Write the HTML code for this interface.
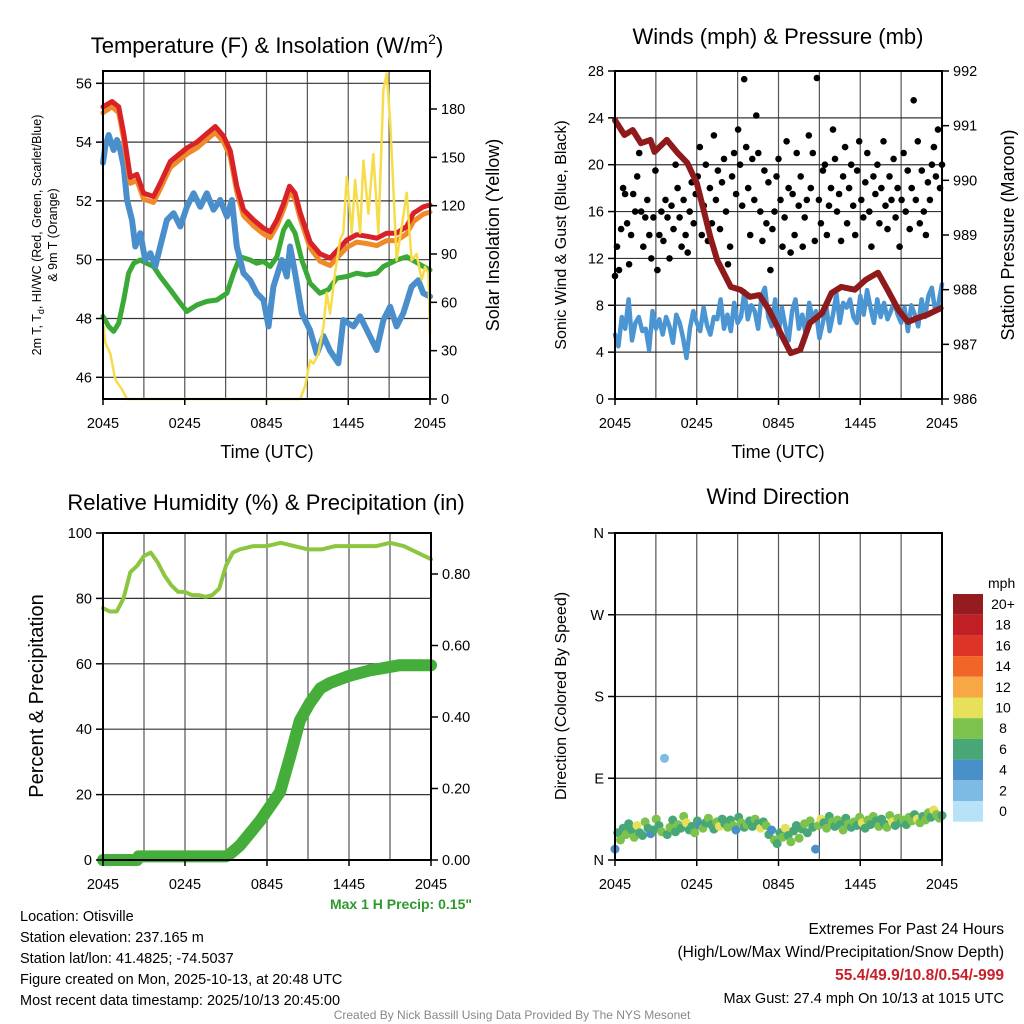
<!DOCTYPE html>
<html><head><meta charset="utf-8">
<style>
html,body{margin:0;padding:0;background:#fff;}
svg{display:block;font-family:"Liberation Sans",Arial,sans-serif;}
</style></head>
<body>
<svg id="c" width="1024" height="1024" viewBox="0 0 1024 1024" xmlns="http://www.w3.org/2000/svg"></svg>
<script>
// ---------- DATA ----------
const xTickLabels = ["2045","0245","0845","1445","2045"];
// Panel 1
const tempT = [0,0.66,1.15,1.52,2.0,2.49,2.98,3.71,4.2,4.94,6.16,6.89,7.5,8.24,8.85,9.34,9.82,10.31,11.05,11.78,12.27,12.76,13.25,13.69,14.1,14.47,15.2,15.93,16.67,17.16,17.89,18.62,19.35,20.09,20.82,21.55,22.29,22.78,23.51,24];
const tempRed = [55.2,55.38,55.2,54.3,52.8,52.9,52.26,52.15,52.6,53.34,53.8,54.0,54.24,54.53,54.2,53.7,52.5,51.7,51.35,51.07,50.95,51.35,51.9,52.5,52.26,51.6,50.6,50.2,50.05,50.3,50.67,50.85,50.8,50.73,50.9,50.9,51.13,51.58,51.8,51.86];
const tempOrange = [55.0,55.2,55.0,54.1,52.6,52.7,52.06,51.95,52.4,53.14,53.6,53.8,54.04,54.33,54.0,53.5,52.3,51.5,51.15,50.87,50.75,51.15,51.7,52.3,52.06,51.4,50.4,49.95,49.8,50.05,50.42,50.6,50.55,50.48,50.65,50.65,50.88,51.3,51.55,51.62];
const dewT = [0,0.17,0.42,0.78,1.03,1.27,1.52,1.76,2.13,2.37,2.74,3.1,3.47,3.84,4.2,4.69,5.18,5.67,6.16,6.65,7.14,7.62,8.11,8.6,9.09,9.46,9.82,10.31,10.8,11.29,11.78,12.15,12.51,13.12,13.49,13.73,14.1,14.59,15.2,15.69,16.18,16.67,17.28,17.64,18.38,18.87,19.48,20.09,20.58,21.07,21.55,22.04,22.65,23.14,23.51,24];
const dewBlue = [53.3,53.85,54.24,53.73,54.07,53.73,53.17,52.03,51.35,50.45,50.9,49.99,50.22,49.77,50.45,51.35,51.58,51.13,51.8,52.26,51.8,52.26,51.7,52.03,51.47,52.03,50.45,49.54,49.3,48.86,48.63,47.73,49.08,49.99,49.43,50.45,49.54,48.18,47.6,46.8,47.4,46.9,46.48,47.95,47.73,48.07,47.5,46.93,47.95,48.4,47.73,48.18,49.08,49.3,48.86,48.75];
const hiT = [0,0.42,0.78,1.15,1.52,1.88,2.25,2.74,3.1,3.71,4.2,4.94,5.67,6.16,6.89,7.62,8.36,9.09,9.58,10.07,10.8,11.29,11.78,12.27,12.76,13.25,13.61,14.1,14.59,15.2,15.93,16.54,17.16,17.89,18.62,19.35,20.09,20.58,21.07,21.55,22.29,22.9,23.51,24];
const hiGreen = [48.07,47.73,47.56,47.84,48.63,49.54,49.88,49.99,49.9,49.77,49.43,48.98,48.52,48.24,48.46,48.58,48.63,48.86,49.54,50.1,49.99,49.88,49.94,49.77,50.1,51.0,51.3,50.9,49.99,49.2,48.86,48.98,49.37,49.43,49.54,49.48,49.54,49.77,49.88,49.99,50.1,49.94,49.77,49.65];
const solarT = [0.05,0.17,0.54,0.9,1.39,1.76,14.47,14.83,15.2,15.45,15.81,16.18,16.42,16.67,17.03,17.4,17.64,17.89,18.26,18.5,18.87,19.11,19.48,19.84,20.21,20.58,20.82,21.07,21.31,21.55,21.92,22.29,22.65,23.02,23.39,23.63,23.88,24];
const solarV = [45,35,28,12,6,0,0,8,24,22,28,45,66,53,78,99,103,138,103,136,103,148,115,152,103,192,202,173,132,86,107,128,86,90,74,82,78,41];
// Panel 2
const sonicWind = [5.5,4.5,7,6,8.5,5,6.5,7,5.8,6,4.2,7.5,6,6.8,5.5,7,6.2,4.8,7.2,6.5,5.2,3.5,6,7.5,6.5,5.8,7.8,6.3,5.5,7,6.8,8.5,6,7.2,5.8,8.2,6.5,7,9.2,6.8,8,7.5,6,8.8,9.5,7,6.2,8.5,5.5,7.8,6.2,5,7.5,8.5,6,7.2,5.5,8.2,6.8,7.5,5.2,6.5,8,5.8,7.2,9,6.5,8.2,7.8,8.5,7,6.5,8.8,7.2,9.3,7.8,6.5,8.5,7,8.2,6.8,7.5,8.3,7.2,6.5,7.8,5.8,8,7.2,6.2,8.5,7,8.8,9.5,7.5,8.2,9.8];
const gusts = [10.5,13,11,14.5,18,17.5,15,11.5,14,17.5,16,19,21,16,13,15.5,17,14,12,15.5,19.5,11,14,16,13.5,17,15.5,12,16.5,14.5,20,18,15.5,13,17,14,12.5,16,18.5,15,17.5,19,21.5,14,16.5,20,13.5,18,15,22.5,17,19.5,14.5,18.5,20.5,16,11.5,13,19,21,17.5,23,20,16.5,27.3,21.5,18,14,20.5,17,24.2,21,16,13.5,19.5,15,18.5,11,14.5,16,19,20.5,17,13,15.5,22,18,12.5,17.5,14,21,16.5,19,13,15.5,17,22.5,18,21,13.5,27.4,17,15,19.5,20,14,16.5,18,23,20.5,16,17.5,13.5,19,21.5,15,18,20,16.5,14,19.5,22,17,15.5,18.5,21,16,13,19,17.5,20,15,18,22,16.5,14.5,19,17,20.5,15.5,18,13,17,21,16,19.5,14.5,18,25.5,17,22,15,19.5,16,14,18.5,17,20,21.5,19,23,18,20];
const presT = [0,0.7,1.3,1.9,2.6,2.9,3.8,4.6,5.3,6.0,6.5,7.0,7.5,8.5,9.2,9.9,10.6,11.3,12.3,12.9,13.6,14.3,15.2,15.9,16.6,17.6,18.4,19.3,20.0,20.8,21.5,22.2,22.9,23.9];
const presV = [991.1,990.83,990.92,990.68,990.74,990.52,990.74,990.5,990.32,989.95,989.46,988.96,988.54,988.05,988.0,987.87,987.9,987.63,987.13,986.84,986.9,987.39,987.57,987.94,988.05,988.0,988.18,988.31,988.0,987.63,987.41,987.48,987.54,987.66];
// Panel 3
const rhT = [0,0.5,1,1.5,2,2.5,3,3.5,4,4.5,5,5.5,6,6.5,7,7.5,8,8.5,9,9.5,10,11,12,13,14,15,16,17,18,19,20,21,22,23,24];
const rhV = [77,76,76,80,88,90,93,94,91,87,84,82,82,81,81,80.5,81,83,90,94,95,96,96,97,96,95,95,96,96,96,96,97,96,94,92];
const prT = [0,2.5,2.6,9,9.3,10,11.5,12.95,13.7,14.4,15.15,15.9,16.6,18,19.5,21.7,24];
const prV = [0,0,0.01,0.01,0.017,0.04,0.11,0.19,0.29,0.39,0.44,0.48,0.495,0.515,0.53,0.545,0.545];
// Panel 4
const windDir = [12,30,22,35,28,40,33,25,38,30,27,42,35,29,33,45,38,31,112,28,36,44,31,39,35,48,41,33,37,30,43,38,35,41,46,39,34,42,37,45,40,36,44,38,33,47,41,36,39,43,37,45,40,35,42,38,28,33,22,18,30,25,35,27,20,32,38,24,34,40,30,43,36,12,38,45,41,35,48,42,37,44,39,33,46,40,36,42,38,47,41,35,44,39,48,43,37,45,40,36,49,42,38,46,41,44,39,47,43,50,45,41,48,44,52,47,55,50,46,49];
const windSpd = [4.5,7,8,6,9,7,6.5,8.5,10.5,7,6,8,7.5,5,7,9,6.5,8,2.5,7,8.5,6,7.5,9,6.5,8,10,7,6.5,8.5,7,4.5,8,6,9.5,7.5,6.5,8,10.5,7,6,8.5,7.5,9,5,7,8,6.5,9,7.5,6,8.5,7,10,6.5,8,7,5.5,8.5,7,6,9,10.5,6.5,8,7.5,6,8.5,7,9,6.5,8,7.5,4.5,9,10.5,7,8,6.5,9,7.5,8,6,8.5,7,9.5,6.5,8,7.5,9,10.5,7,8,6.5,9,7.5,8.5,7,6,9,8,10,7.5,8.5,6.5,9,7,8,9.5,7.5,10.5,8,7,9,8.5,7.5,10,8,9,7.5];
const spdLabels = ["20+","18","16","14","12","10","8","6","4","2","0"];
const spdColors = ["#941b1e","#c11f26","#de3427","#f26528","#f7a845","#e6e05a","#7cc24c","#48a776","#4a90c8","#7dbbe4","#b7e2f7"];

// ---------- HELPERS ----------
const svg = document.getElementById('c');
const NS = "http://www.w3.org/2000/svg";
function mk(tag, attrs, parent, text){
  const e = document.createElementNS(NS, tag);
  for (const k in attrs) e.setAttribute(k, attrs[k]);
  if (text !== undefined) e.textContent = text;
  (parent || svg).appendChild(e);
  return e;
}
function lin(d0,d1,r0,r1){ return v => r0 + (v-d0)*(r1-r0)/(d1-d0); }
function pathFrom(ts, vs, sx, sy){
  return ts.map((t,i)=>(i?'L':'M')+sx(t).toFixed(1)+','+sy(vs[i]).toFixed(1)).join('');
}
function uniT(n){ const a=[]; for(let i=0;i<n;i++) a.push(i*24/(n-1)); return a; }

function frame(x0,y0,x1,y1,gridY,name){
  const g = mk('g',{});
  
  
  for (let h=3; h<24; h+=3){
    const x = x0 + (x1-x0)*h/24;
    mk('line',{x1:x,y1:y0,x2:x,y2:y1,stroke:'#555','stroke-width':1.2},g);
  }
  gridY.forEach(y=>mk('line',{x1:x0,y1:y,x2:x1,y2:y,stroke:'#333','stroke-width':1.2},g));
  return g;
}
function border(x0,y0,x1,y1,name){
  const r = mk('rect',{x:x0,y:y0,width:x1-x0,height:y1-y0,fill:'none',stroke:'#000','stroke-width':2});
  
  
}
function xAxis(x0,x1,y1,name){
  const g = mk('g',{});
  
  
  xTickLabels.forEach((l,i)=>{
    const x = x0+(x1-x0)*i/4;
    mk('line',{x1:x,y1:y1,x2:x,y2:y1+6,stroke:'#000','stroke-width':1.5},g);
    mk('text',{x:x,y:y1+29,'font-size':14.5,'text-anchor':'middle'},g,l);
  });
}
function yTicks(vals, labels, sy, x, side, name){
  const g = mk('g',{});
  
  
  vals.forEach((v,i)=>{
    const y = sy(v);
    const dx = side==='left' ? -7 : 7;
    mk('line',{x1:x,y1:y,x2:x+dx,y2:y,stroke:'#000','stroke-width':1.5},g);
    mk('text',{x: side==='left'? x-11 : x+11, y:y+5,'font-size':14.5,'text-anchor': side==='left'?'end':'start'},g,labels[i]);
  });
}
function drawLine(d, color, w, name){
  const p = mk('path',{d:d,fill:'none',stroke:color,'stroke-width':w,'stroke-linejoin':'round','stroke-linecap':'round'});
  
  
}

// ---------- PANEL 1 ----------
(function(){
  const x0=103,x1=430,y0=71,y1=399;
  const sx = lin(0,24,x0,x1);
  const sy = lin(46,56,377.3,83.3);
  const sr = lin(0,180,399,109);
  frame(x0,y0,x1,y1,[56,54,52,50,48,46].map(sy),'temp-panel');
  drawLine(pathFrom(hiT,hiGreen,sx,sy),'#3aa935',5,'heat-index-line');
  drawLine(pathFrom(dewT,dewBlue,sx,sy),'#4a8fcc',6,'dewpoint-line');
  drawLine(pathFrom(tempT,tempOrange,sx,sy),'#f08a28',5,'temp-9m-line');
  drawLine(pathFrom(tempT,tempRed,sx,sy),'#d92128',5,'temp-2m-line');
  drawLine(pathFrom(solarT,solarV,sx,sr),'#f7dc4a',2.5,'solar-insolation-line');
  border(x0,y0,x1,y1,'temp-panel');
  yTicks([46,48,50,52,54,56],["46","48","50","52","54","56"],sy,x0,'left','temp-y-axis');
  yTicks([0,30,60,90,120,150,180],["0","30","60","90","120","150","180"],sr,x1,'right','solar-y-axis');
  xAxis(x0,x1,y1,'temp-panel');
  const t = mk('text',{x:267,y:53,'font-size':22,'text-anchor':'middle'});
   
  t.innerHTML = 'Temperature (F) &amp; Insolation (W/m<tspan font-size="14" dy="-9">2</tspan><tspan dy="9">)</tspan>';
  const xl = mk('text',{x:267,y:458,'font-size':18,'text-anchor':'middle'},null,'Time (UTC)');
   
  const yl = mk('text',{transform:'translate(41,235) rotate(-90)','font-size':12.5,'text-anchor':'middle'});
   
  yl.innerHTML = '2m T, T<tspan font-size="9" dy="3">d</tspan><tspan dy="-3">, HI/WC (Red, Green, Scarlet/Blue)</tspan>';
  const yl2 = mk('text',{transform:'translate(57,235) rotate(-90)','font-size':12.5,'text-anchor':'middle'},null,'& 9m T (Orange)');
   
  const yr = mk('text',{transform:'translate(499,235) rotate(-90)','font-size':18,'text-anchor':'middle'},null,'Solar Insolation (Yellow)');
   
})();

// ---------- PANEL 2 ----------
(function(){
  const x0=615,x1=942,y0=71,y1=399;
  const sx = lin(0,24,x0,x1);
  const sy = lin(0,28,399,71);
  const sp = lin(986,992,399,71);
  frame(x0,y0,x1,y1,[4,8,12,16,20,24].map(sy),'wind-panel');
  drawLine(pathFrom(uniT(sonicWind.length),sonicWind,sx,sy),'#4b95d2',4.5,'sonic-wind-line');
  const g = mk('g',{});
   
  const gt = uniT(gusts.length);
  gusts.forEach((v,i)=>{
    const c = mk('circle',{cx:sx(gt[i]).toFixed(1),cy:sy(v).toFixed(1),r:3.3,fill:'#000'},g);
    
    
  });
  drawLine(pathFrom(presT,presV,sx,sp),'#8e1a1c',6,'pressure-line');
  border(x0,y0,x1,y1,'wind-panel');
  yTicks([0,4,8,12,16,20,24,28],["0","4","8","12","16","20","24","28"],sy,x0,'left','wind-y-axis');
  yTicks([986,987,988,989,990,991,992],["986","987","988","989","990","991","992"],sp,x1,'right','pressure-y-axis');
  xAxis(x0,x1,y1,'wind-panel');
  const t = mk('text',{x:778,y:44,'font-size':22,'text-anchor':'middle'},null,'Winds (mph) & Pressure (mb)');
   
  const xl = mk('text',{x:778,y:458,'font-size':18,'text-anchor':'middle'},null,'Time (UTC)');
   
  const yl = mk('text',{transform:'translate(566,235) rotate(-90)','font-size':16,'text-anchor':'middle'},null,'Sonic Wind & Gust (Blue, Black)');
   
  const yr = mk('text',{transform:'translate(1014,235) rotate(-90)','font-size':18,'text-anchor':'middle'},null,'Station Pressure (Maroon)');
   
})();

// ---------- PANEL 3 ----------
(function(){
  const x0=103,x1=431,y0=533,y1=860;
  const sx = lin(0,24,x0,x1);
  const sy = lin(0,100,860,533);
  const sr = lin(0,0.8,860,574);
  frame(x0,y0,x1,y1,[20,40,60,80].map(sy),'rh-panel');
  drawLine(pathFrom(prT,prV,sx,sr),'#45ad3a',12,'precip-line');
  drawLine(pathFrom(rhT,rhV,sx,sy),'#8cc63f',4,'rh-line');
  border(x0,y0,x1,y1,'rh-panel');
  yTicks([0,20,40,60,80,100],["0","20","40","60","80","100"],sy,x0,'left','rh-y-axis');
  yTicks([0,0.2,0.4,0.6,0.8],["0.00","0.20","0.40","0.60","0.80"],sr,x1,'right','precip-y-axis');
  xAxis(x0,x1,y1,'rh-panel');
  const t = mk('text',{x:266,y:510,'font-size':22,'text-anchor':'middle'},null,'Relative Humidity (%) & Precipitation (in)');
   
  const yl = mk('text',{transform:'translate(43,696) rotate(-90)','font-size':20,'text-anchor':'middle'},null,'Percent & Precipitation');
   
  const mp = mk('text',{x:472,y:909,'font-size':14,'font-weight':'bold','fill':'#2e9a2e','text-anchor':'end'},null,'Max 1 H Precip: 0.15"');
   
})();

// ---------- PANEL 4 ----------
(function(){
  const x0=615,x1=942,y0=533,y1=860;
  const sx = lin(0,24,x0,x1);
  const sy = lin(0,360,860,533);
  frame(x0,y0,x1,y1,[90,180,270].map(sy),'direction-panel');
  const g = mk('g',{});
   
  const dt = uniT(windDir.length);
  windDir.forEach((d,i)=>{
    const bin = Math.min(10, Math.floor(windSpd[i]/2));
    const c = mk('circle',{cx:sx(dt[i]).toFixed(1),cy:sy(d).toFixed(1),r:4.5,fill:spdColors[10-bin]},g);
    
    
  });
  border(x0,y0,x1,y1,'direction-panel');
  yTicks([0,90,180,270,360],["N","E","S","W","N"],sy,x0,'left','direction-y-axis');
  xAxis(x0,x1,y1,'direction-panel');
  const t = mk('text',{x:778,y:504,'font-size':22,'text-anchor':'middle'},null,'Wind Direction');
   
  const yl = mk('text',{transform:'translate(566,696) rotate(-90)','font-size':16,'text-anchor':'middle'},null,'Direction (Colored By Speed)');
   
  const lg = mk('g',{});
   
  mk('text',{x:988,y:588,'font-size':14},lg,'mph');
  spdLabels.forEach((l,i)=>{
    const r = mk('rect',{x:953,y:594+i*20.7,width:30,height:20.7,fill:spdColors[i]},lg);
    
    
    mk('text',{x:1003,y:609+i*20.7,'font-size':14,'text-anchor':'middle'},lg,l);
  });
})();

// ---------- FOOTER ----------
(function(){
  const g = mk('g',{'font-size':14.5});
   
  ["Location: Otisville","Station elevation: 237.165 m","Station lat/lon: 41.4825; -74.5037","Figure created on Mon, 2025-10-13, at 20:48 UTC","Most recent data timestamp: 2025/10/13 20:45:00"].forEach((s,i)=>{
    mk('text',{x:20,y:921+i*21},g,s);
  });
  const e = mk('g',{'font-size':15.5,'text-anchor':'end'});
   
  mk('text',{x:1004,y:934},e,'Extremes For Past 24 Hours');
  mk('text',{x:1004,y:957},e,'(High/Low/Max Wind/Precipitation/Snow Depth)');
  mk('text',{x:1004,y:980,'font-weight':'bold',fill:'#c8202a'},e,'55.4/49.9/10.8/0.54/-999');
  mk('text',{x:1004,y:1003,'font-size':14.5},e,'Max Gust: 27.4 mph On 10/13 at 1015 UTC');
  const cr = mk('text',{x:512,y:1019,'font-size':12,'text-anchor':'middle',fill:'#888'},null,'Created By Nick Bassill Using Data Provided By The NYS Mesonet');
   
})();
</script>
</body></html>
